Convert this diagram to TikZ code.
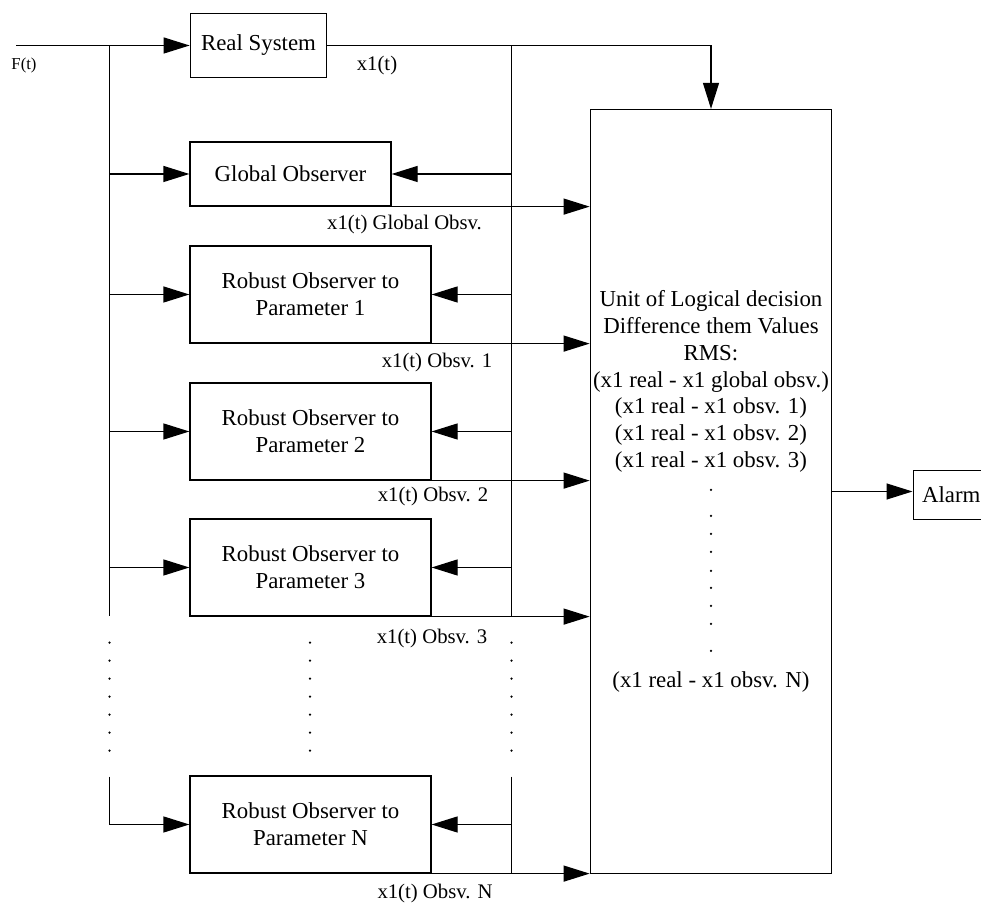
\documentclass[tikz,border=0pt]{standalone}
\usepackage{fontspec}
\setmainfont{Liberation Serif}
\usetikzlibrary{arrows.meta,calc}

\begin{document}
\begin{tikzpicture}[>={Triangle[length=0.52cm,width=0.32cm]}, line width=0.7pt,
  blk/.style={draw, inner sep=0pt, align=center, font=\fontsize{13}{15.3}\selectfont},
  lbl/.style={inner sep=0pt, font=\fontsize{11.8}{14}\selectfont}]
\useasboundingbox (0,0) rectangle (19.62,18.1);
% blocks
\node[blk, minimum width=2.73cm, minimum height=1.28cm] (real) at (5.17,17.19) {Real System};
\node[blk, minimum width=4.02cm, minimum height=1.28cm] (glob) at (5.81,14.62) {Global Observer};
\foreach \i/\y in {1/12.21,2/9.47,3/6.75,N/1.61}
  {\node[blk, minimum width=4.82cm, minimum height=1.94cm] (rob\i) at (6.21,\y) {Robust Observer to\\Parameter \i};}
\node[blk, minimum width=4.83cm, minimum height=15.28cm] (unit) at (14.22,8.27)
  {Unit of Logical decision\\Difference them Values\\RMS:\\(x1 real - x1 global obsv.)\\(x1 real - x1 obsv. 1)\\(x1 real - x1 obsv. 2)\\(x1 real - x1 obsv. 3)\\[110pt](x1 real - x1 obsv. N)};
\node[blk, anchor=west, inner xsep=0.18cm, minimum height=0.98cm] (alarm) at (18.25,8.2) {Alarm};
% buses
\coordinate (fin) at (0.32,17.19);
\coordinate (ltop) at (2.19,17.19); \coordinate (lend) at (2.19,5.78);
\coordinate (ltopN) at (2.19,2.566);
\coordinate (rtop) at (10.23,17.19); \coordinate (rend) at (10.23,5.78);
\coordinate (rtopN) at (10.23,2.566);
\draw[->] (fin) -- (real);
\draw (ltop) -- (lend);
\draw[->] (ltopN) |- (robN.west);
\draw[->] (real.east) -| (unit.north); % real output
\draw (rtop) -- (rend);
\draw (rtopN) -- (rtopN |- robN.south east);
\foreach \b in {glob,rob1,rob2,rob3}
  {\draw[->] (ltop |- \b.west) -- (\b.west);
   \draw[->] (rtop |- \b.east) -- (\b.east);
   \draw[->] (\b.south east) -- (\b.south east -| unit.west);}
\draw[->] (rtop |- robN.east) -- (robN.east);
\draw[->] (robN.south east) -- (robN.south east -| unit.west);
\draw[->] (unit.east) -- (unit.east -| alarm.west);
% dotted gaps
\foreach \x in {2.19,6.2,10.23}
  {\foreach \k in {0,...,6} {\fill (\x,5.246-0.36*\k) circle (0.025);}}
\foreach \y in {8.30,7.78,7.42,7.06,6.68,6.34,5.98,5.62,5.08}
  {\fill (unit.center |- 0,\y) circle (0.025);}
% labels
\node[lbl, font=\fontsize{9.5}{11}\selectfont] (ft) at (0.48,16.8) {F(t)};
\node[lbl] (xr) at (7.54,16.78) {x1(t)};
\node[lbl] (xg) at (8.09,13.6) {x1(t) Global Obsv.};
\foreach \i/\x/\y in {1/8.74/10.84,2/8.66/8.16,3/8.64/5.32,N/8.7/0.22}
  {\node[lbl] (x\i) at (\x,\y) {x1(t) Obsv. \i};}
\end{tikzpicture}
\end{document}
